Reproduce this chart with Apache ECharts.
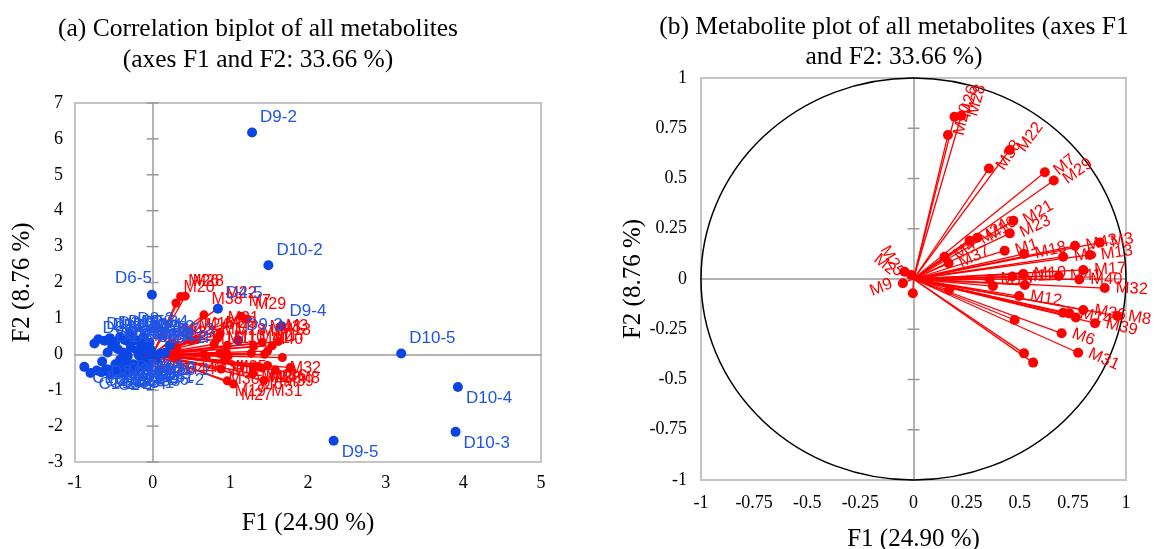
<!DOCTYPE html>
<html>
<head>
<meta charset="utf-8">
<script src="https://cdn.jsdelivr.net/npm/echarts@6/dist/echarts.min.js"></script>
<style>
  html, body { margin: 0; background: #fff; }
  #chart { width: 1172px; height: 549px; }
</style>
</head>
<body>
<div id="chart"></div>
<script>
// PCA of metabolites: (a) correlation biplot (samples + metabolite vectors), (b) loadings on the unit circle.

const metaboliteNames = [
  'M20', 'M26', 'M28', 'M38', 'M22', 'M7', 'M29', 'M21', 'M23', 'M24', 'M16', 'M4', 'M37',
  'M1', 'M18', 'M5', 'M43', 'M3', 'M13', 'M17', 'M10', 'M41', 'M11', 'M15', 'M34', 'M35',
  'M40', 'M32', 'M12', 'M36', 'M14', 'M42', 'M8', 'M39', 'M33', 'M30', 'M6', 'M31', 'M19',
  'M27', 'M44', 'M9', 'M2', 'M25', 'M45',
];
// loadings (panel b)
const loadF1 = [
  0.162, 0.193, 0.225, 0.355, 0.453, 0.618, 0.660, 0.470, 0.453, 0.264, 0.300, 0.146, 0.165,
  0.429, 0.520, 0.704, 0.760, 0.877, 0.830, 0.799, 0.516, 0.684, 0.465, 0.358, 0.374, 0.524,
  0.780, 0.900, 0.497, 0.799, 0.733, 0.704, 0.959, 0.854, 0.764, 0.476, 0.697, 0.775, 0.520,
  0.563, 0.167, -0.050, -0.042, -0.011, -0.003,
];
const loadF2 = [
  0.716, 0.807, 0.812, 0.550, 0.642, 0.531, 0.490, 0.290, 0.227, 0.190, 0.205, 0.111, 0.078,
  0.141, 0.125, 0.111, 0.165, 0.181, 0.120, 0.045, 0.025, 0.015, 0.012, 0.000, -0.035, -0.030,
  -0.002, -0.045, -0.085, -0.154, -0.171, -0.168, -0.184, -0.220, -0.191, -0.204, -0.270, -0.367, -0.370,
  -0.416, -0.055, -0.021, 0.036, 0.020, -0.071,
];
// metabolite vectors as drawn in the biplot (panel a)
const biplotF1 = [
  0.30, 0.36, 0.42, 0.66, 0.84, 1.14, 1.22, 0.87, 0.84, 0.49, 0.56, 0.27, 0.31,
  0.79, 0.96, 1.30, 1.41, 1.62, 1.54, 1.48, 0.95, 1.27, 0.86, 0.66, 0.69, 0.97,
  1.44, 1.67, 0.92, 1.48, 1.36, 1.30, 1.77, 1.58, 1.41, 0.88, 1.29, 1.43, 0.96,
  1.04, 0.31, -0.09, -0.08, -0.02, -0.01,
];
const biplotF2 = [
  1.43, 1.61, 1.62, 1.10, 1.28, 1.06, 0.98, 0.58, 0.45, 0.38, 0.41, 0.22, 0.16,
  0.28, 0.25, 0.22, 0.33, 0.36, 0.24, 0.09, 0.05, 0.03, 0.02, 0.00, -0.07, -0.06,
  0.00, -0.09, -0.17, -0.31, -0.34, -0.34, -0.37, -0.44, -0.38, -0.41, -0.54, -0.73, -0.74,
  -0.83, -0.11, -0.04, 0.07, 0.04, -0.14,
];
const unlabelledInB = ['M34', 'M35', 'M42', 'M33', 'M30', 'M19', 'M27', 'M44', 'M45'];

const sampleNames = [
  'C1-1', 'C1-2', 'C1-3', 'C1-4', 'C1-5', 'C2-1', 'C2-2', 'C2-3', 'C2-4', 'C2-5',
  'C3-1', 'C3-2', 'C3-3', 'C3-4', 'C3-5', 'D1-1', 'D1-2', 'D1-3', 'D1-4', 'D1-5',
  'D2-1', 'D2-2', 'D2-3', 'D2-4', 'D2-5', 'D3-1', 'D3-2', 'D3-3', 'D3-4', 'D3-5',
  'D4-1', 'D4-2', 'D4-3', 'D4-4', 'D4-5', 'D5-1', 'D5-2', 'D5-3', 'D5-4', 'D5-5',
  'D6-1', 'D6-2', 'D6-3', 'D6-4', 'D6-5', 'D7-1', 'D7-2', 'D7-3', 'D7-4', 'D7-5',
  'D8-1', 'D8-2', 'D8-3', 'D8-4', 'D8-5', 'D9-1', 'D9-2', 'D9-3', 'D9-4', 'D9-5',
  'D10-1', 'D10-2', 'D10-3', 'D10-4', 'D10-5',
];
const sampleF1 = [
  -0.88, -0.80, -0.72, -0.66, -0.60, -0.55, -0.50, -0.45, -0.40, -0.35,
  -0.30, -0.26, -0.22, -0.58, -0.16, -0.70, -0.62, -0.55, -0.48, -0.42,
  -0.36, -0.30, -0.25, -0.20, -0.15, -0.45, -0.38, -0.32, -0.42, -0.28,
  -0.35, -0.20, -0.15, 0.16, 0.84, -0.25, -0.12, -0.08, -0.18, -0.10,
  -0.05, 0.085, -0.02, -0.06, -0.01, 0.094, -0.04, 0.22, -0.48, -0.52,
  -0.58, -0.65, -0.30, -0.12, -0.75, -0.02, 1.28, 1.10, 1.66, 2.33,
  0.05, 1.49, 3.90, 3.93, 3.20,
];
const sampleF2 = [
  -0.35, -0.52, -0.45, -0.50, -0.42, -0.55, -0.47, -0.38, -0.52, -0.44,
  -0.50, -0.36, -0.45, -0.42, -0.33, 0.42, 0.38, 0.45, 0.35, 0.48,
  0.40, 0.33, 0.46, 0.38, 0.30, 0.15, 0.05, -0.05, -0.15, 0.18,
  -0.22, 0.10, -0.12, 0.04, 1.27, -0.28, 0.15, -0.25, -0.02, 0.22,
  -0.35, -0.43, -0.08, 0.10, 1.66, 0.02, 0.32, 0.25, -0.28, 0.22,
  0.05, -0.20, 0.55, 0.48, 0.30, 0.12, 6.18, 0.39, 0.78, -2.41,
  -0.15, 2.48, -2.16, -0.91, 0.02,
];

const leftYTicks = [-3, -2, -1, 0, 1, 2, 3, 4, 5, 6, 7];
const rightTicks = [-1, -0.75, -0.5, -0.25, 0, 0.25, 0.5, 0.75, 1];
const unitCircle = [[0, 0, 1]];

const RED = '#ff0000';
const BLUE_DOT = '#0b45e3';
const BLUE_TXT = '#1f55e6';
const SERIF = '"Liberation Serif", "Times New Roman", serif';
const SANS = '"Liberation Sans", Arial, sans-serif';
const labelSide = { 'D6-5': 'upLeft' };

function sideLabel(side, color, size) {
  const base = { show: true, formatter: '{b}', color, fontSize: size, fontFamily: SANS, distance: 3 };
  if (side === 'upLeft') return { ...base, position: 'left', distance: 0, offset: [5, -16] };
  if (side === 'downRight') return { ...base, position: 'right', offset: [0, 11] };
  return { ...base, position: 'right', offset: [0, -15] };
}

const leftVectors = metaboliteNames.map((n, i) => ({ coords: [[0, 0], [biplotF1[i], biplotF2[i]]] }));
const leftMetDots = metaboliteNames.map((n, i) => ({
  name: n,
  value: [biplotF1[i], biplotF2[i]],
  label: sideLabel(biplotF2[i] >= 0 ? 'upRight' : 'downRight', RED, 16),
}));
const sampleDots = sampleNames.map((n, i) => ({
  name: n,
  value: [sampleF1[i], sampleF2[i]],
  label: sideLabel(labelSide[n] || (sampleF2[i] >= 0 ? 'upRight' : 'downRight'), BLUE_TXT, 17),
}));

const rightVectors = metaboliteNames.map((n, i) => ({ coords: [[0, 0], [loadF1[i], loadF2[i]]] }));
const rightMetDots = metaboliteNames.map((n, i) => {
  const ang = Math.atan2(loadF2[i] * 201, loadF1[i] * 212) * 180 / Math.PI;
  const pointsLeft = Math.abs(ang) > 90;
  return {
    name: n,
    value: [loadF1[i], loadF2[i]],
    label: {
      show: unlabelledInB.indexOf(n) < 0,
      formatter: '{b}',
      position: pointsLeft ? 'left' : 'right',
      rotate: pointsLeft ? (ang > 0 ? ang - 180 : ang + 180) : ang,
      distance: 6, color: RED, fontSize: 16.5, fontFamily: SANS,
    },
  };
});

function crossTick(half) {
  return (params, api) => {
    const c = api.coord([api.value(0), api.value(1)]);
    return {
      type: 'line',
      shape: { x1: c[0] - half, y1: c[1], x2: c[0] + half, y2: c[1] },
      style: { stroke: '#999999', lineWidth: 1.5 },
    };
  };
}

const tickFont = { color: '#000', fontSize: 18, fontFamily: SERIF };
const nameFont = { color: '#000', fontSize: 25, fontFamily: SERIF };
const zeroLine = { show: true, onZero: true, lineStyle: { color: '#999999', width: 1.5 } };

function labelAxes(gridIndex, min, max, interval, gapX, gapY, margin) {
  const common = { gridIndex, type: 'value', min, max, interval, splitLine: { show: false },
    axisLine: { show: false, onZero: false }, axisTick: { show: false } };
  return {
    x: { ...common, position: 'bottom', axisLabel: { ...tickFont, margin },
      name: 'F1 (24.90 %)', nameLocation: 'middle', nameGap: gapX, nameTextStyle: nameFont },
    y: { ...common, position: 'left', axisLabel: { ...tickFont, margin },
      name: 'F2 (8.76 %)', nameLocation: 'middle', nameGap: gapY, nameTextStyle: nameFont },
  };
}
function zeroAxis(gridIndex, min, max, position) {
  return { gridIndex, type: 'value', min, max, position, axisLine: zeroLine,
    axisTick: { show: false }, axisLabel: { show: false }, splitLine: { show: false } };
}

const aAxes = labelAxes(0, -1, 5, 1, 49, 40, 12);
const aY = { ...aAxes.y, min: -3, max: 7, interval: 1 };
const bAxes = labelAxes(1, -1, 1, 0.25, 47, 29, 14);

const titleFont = { ...nameFont, fontSize: 25.5, fontWeight: 'normal', lineHeight: 31 };

const option = {
  animation: false,
  backgroundColor: '#ffffff',
  title: [
    { text: '(a) Correlation biplot of all metabolites\n(axes F1 and F2: 33.66 %)', left: 253, top: 9,
      textAlign: 'center', textStyle: titleFont },
    { text: '(b) Metabolite plot of all metabolites (axes F1\nand F2: 33.66 %)', left: 889, top: 7,
      textAlign: 'center', textStyle: { ...titleFont, lineHeight: 30 } },
  ],
  grid: [
    { left: 75, top: 103, width: 466, height: 359, show: true, borderColor: '#c4c4c4', borderWidth: 2,
      outerBoundsMode: 'none' },
    { left: 701, top: 78, width: 425, height: 402, show: true, borderColor: '#c4c4c4', borderWidth: 2,
      outerBoundsMode: 'none' },
  ],
  xAxis: [aAxes.x, zeroAxis(0, -1, 5, 'top'), bAxes.x, zeroAxis(1, -1, 1, 'top')],
  yAxis: [aY, zeroAxis(0, -3, 7, 'right'), bAxes.y, zeroAxis(1, -1, 1, 'right')],
  series: [
    { type: 'custom', xAxisIndex: 0, yAxisIndex: 0, silent: true, clip: false,
      data: leftYTicks.map((v) => [0, v]), renderItem: crossTick(6) },
    { type: 'lines', coordinateSystem: 'cartesian2d', xAxisIndex: 0, yAxisIndex: 0, silent: true,
      data: leftVectors, lineStyle: { color: RED, width: 1.3, opacity: 1 } },
    { type: 'scatter', xAxisIndex: 0, yAxisIndex: 0, symbolSize: 9, silent: true,
      itemStyle: { color: RED, opacity: 1 }, data: leftMetDots },
    { type: 'scatter', xAxisIndex: 0, yAxisIndex: 0, symbolSize: 10, silent: true,
      itemStyle: { color: BLUE_DOT, opacity: 1 }, data: sampleDots },

    { type: 'custom', xAxisIndex: 2, yAxisIndex: 2, silent: true, clip: false,
      data: rightTicks.map((v) => [0, v]), renderItem: crossTick(6) },
    { type: 'custom', xAxisIndex: 2, yAxisIndex: 2, silent: true, clip: false, data: unitCircle,
      renderItem: (params, api) => {
        const c = api.coord([api.value(0), api.value(1)]);
        const px = api.coord([api.value(0) + api.value(2), api.value(1)]);
        const py = api.coord([api.value(0), api.value(1) + api.value(2)]);
        const rx = px[0] - c[0];
        const ry = c[1] - py[1];
        return { type: 'circle', x: c[0], y: c[1], scaleY: ry / rx, shape: { cx: 0, cy: 0, r: rx },
          style: { fill: 'none', stroke: '#000', lineWidth: 1.5 } };
      } },
    { type: 'lines', coordinateSystem: 'cartesian2d', xAxisIndex: 2, yAxisIndex: 2, silent: true,
      data: rightVectors, lineStyle: { color: RED, width: 1.3, opacity: 1 } },
    { type: 'scatter', xAxisIndex: 2, yAxisIndex: 2, symbolSize: 10, silent: true,
      itemStyle: { color: RED, opacity: 1 }, data: rightMetDots },
  ],
};

const chart = echarts.init(document.getElementById('chart'), null, { renderer: 'canvas' });
chart.setOption(option);
</script>
</body>
</html>
